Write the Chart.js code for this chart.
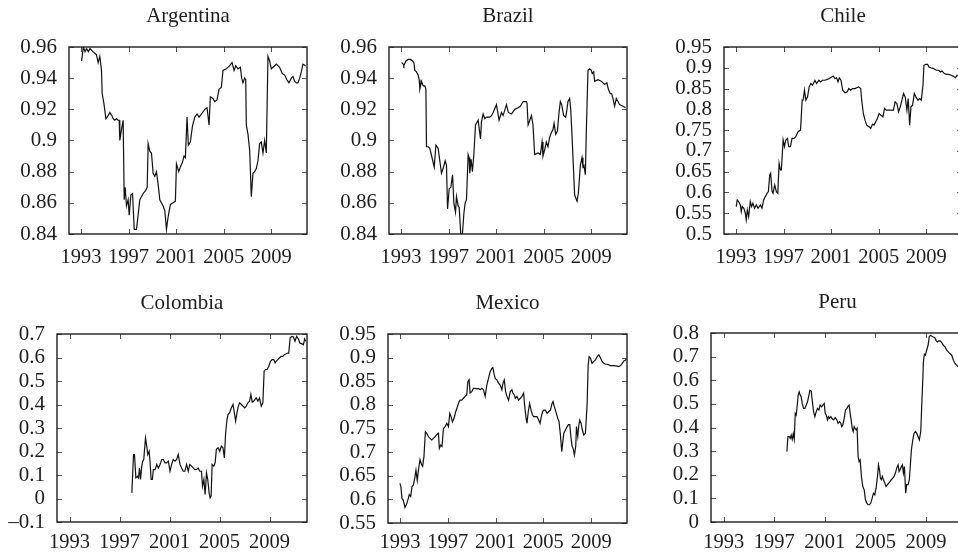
<!DOCTYPE html>
<html>
<head>
<meta charset="utf-8">
<script src="https://cdn.jsdelivr.net/npm/chart.js@4.4.0/dist/chart.umd.min.js"></script>
<style>
  body { margin: 0; background: #fff; }
  #figure { position: relative; width: 958px; height: 558px; overflow: hidden; background: #fff; }
  #figure canvas { position: absolute; }
</style>
</head>
<body>
<div id="figure"></div>
<script>
const yearTicks = [1993, 1997, 2001, 2005, 2009];

const argentinaYTicks = [0.84, 0.86, 0.88, 0.9, 0.92, 0.94, 0.96];
const brazilYTicks = [0.84, 0.86, 0.88, 0.9, 0.92, 0.94, 0.96];
const chileYTicks = [0.5, 0.55, 0.6, 0.65, 0.7, 0.75, 0.8, 0.85, 0.9, 0.95];
const colombiaYTicks = [-0.1, 0, 0.1, 0.2, 0.3, 0.4, 0.5, 0.6, 0.7];
const mexicoYTicks = [0.55, 0.6, 0.65, 0.7, 0.75, 0.8, 0.85, 0.9, 0.95];
const peruYTicks = [0, 0.1, 0.2, 0.3, 0.4, 0.5, 0.6, 0.7, 0.8];

const argentinaYears = [
  1993.06, 1993.20, 1993.35, 1993.48, 1993.62, 1993.76, 1994.00, 1994.17, 1994.31, 1994.45,
  1994.59, 1994.73, 1994.79, 1994.93, 1995.10, 1995.29, 1995.43, 1995.60, 1995.71, 1995.85,
  1995.99, 1996.12, 1996.22, 1996.27, 1996.41, 1996.55, 1996.64, 1996.72, 1996.83, 1996.97,
  1997.06, 1997.20, 1997.34, 1997.48, 1997.67, 1997.76, 1997.95, 1998.23, 1998.45, 1998.57,
  1998.65, 1998.79, 1998.93, 1999.07, 1999.21, 1999.35, 1999.49, 1999.63, 1999.91, 2000.05,
  2000.19, 2000.33, 2000.52, 2000.75, 2000.94, 2001.03, 2001.22, 2001.36, 2001.53, 2001.67,
  2001.78, 2001.92, 2002.03, 2002.20, 2002.37, 2002.57, 2002.76, 2002.93, 2003.13, 2003.41,
  2003.60, 2003.77, 2003.88, 2004.10, 2004.24, 2004.44, 2004.61, 2004.80, 2004.94, 2005.22,
  2005.50, 2005.70, 2005.87, 2006.01, 2006.20, 2006.40, 2006.51, 2006.62, 2006.76, 2006.85,
  2006.90, 2007.04, 2007.18, 2007.32, 2007.46, 2007.60, 2007.74, 2007.88, 2008.02, 2008.16,
  2008.30, 2008.44, 2008.58, 2008.72, 2008.86, 2009.00, 2009.14, 2009.28, 2009.42, 2009.70,
  2009.92, 2010.12, 2010.31, 2010.48, 2010.68, 2010.82, 2010.96, 2011.10, 2011.24, 2011.38,
  2011.52, 2011.66, 2011.88
];
const argentinaValues = [
  0.951, 0.960, 0.957, 0.959, 0.957, 0.959, 0.957, 0.956, 0.955, 0.950,
  0.954, 0.945, 0.930, 0.924, 0.914, 0.916, 0.918, 0.916, 0.914, 0.913,
  0.914, 0.913, 0.913, 0.900, 0.907, 0.913, 0.862, 0.870, 0.858, 0.862,
  0.852, 0.865, 0.866, 0.843, 0.843, 0.849, 0.862, 0.866, 0.868, 0.870,
  0.898, 0.893, 0.892, 0.879, 0.877, 0.880, 0.872, 0.862, 0.858, 0.855,
  0.843, 0.851, 0.859, 0.860, 0.861, 0.885, 0.880, 0.883, 0.886, 0.890,
  0.889, 0.915, 0.897, 0.899, 0.909, 0.915, 0.917, 0.915, 0.917, 0.920,
  0.921, 0.910, 0.928, 0.927, 0.925, 0.926, 0.933, 0.934, 0.945, 0.946,
  0.948, 0.950, 0.945, 0.948, 0.946, 0.947, 0.940, 0.937, 0.940, 0.939,
  0.910, 0.904, 0.894, 0.864, 0.879, 0.880, 0.882, 0.887, 0.898, 0.899,
  0.892, 0.900, 0.892, 0.954, 0.951, 0.946, 0.947, 0.948, 0.949, 0.947,
  0.943, 0.942, 0.939, 0.937, 0.940, 0.941, 0.938, 0.937, 0.937, 0.940,
  0.944, 0.949, 0.948
];

const brazilYears = [
  1993.06, 1993.20, 1993.25, 1993.42, 1993.62, 1993.81, 1993.98, 1994.09, 1994.17, 1994.31,
  1994.45, 1994.54, 1994.59, 1994.73, 1994.87, 1995.01, 1995.10, 1995.15, 1995.29, 1995.43,
  1995.80, 1995.94, 1996.13, 1996.41, 1996.55, 1996.72, 1996.83, 1996.92, 1997.06, 1997.20,
  1997.34, 1997.45, 1997.59, 1997.67, 1997.81, 1997.90, 1998.03, 1998.17, 1998.29, 1998.40,
  1998.51, 1998.65, 1998.73, 1998.79, 1998.90, 1999.01, 1999.13, 1999.27, 1999.49, 1999.69,
  1999.77, 1999.91, 2000.05, 2000.19, 2000.47, 2000.61, 2000.75, 2001.03, 2001.25, 2001.45,
  2001.59, 2001.87, 2002.03, 2002.29, 2002.57, 2002.85, 2003.04, 2003.27, 2003.55, 2003.60,
  2003.69, 2003.83, 2003.97, 2004.10, 2004.24, 2004.52, 2004.72, 2004.86, 2004.94, 2005.08,
  2005.22, 2005.36, 2005.50, 2005.64, 2005.78, 2005.87, 2006.01, 2006.15, 2006.29, 2006.40,
  2006.51, 2006.68, 2006.85, 2006.90, 2007.04, 2007.18, 2007.27, 2007.38, 2007.60, 2007.80,
  2007.91, 2008.08, 2008.22, 2008.30, 2008.38, 2008.50, 2008.58, 2008.72, 2008.86, 2009.00,
  2009.08, 2009.20, 2009.28, 2009.56, 2009.84, 2009.98, 2010.12, 2010.31, 2010.43, 2010.59,
  2010.71, 2010.82, 2010.96, 2011.10, 2011.24, 2011.38, 2011.66, 2011.88
];
const brazilValues = [
  0.950, 0.949, 0.948, 0.951, 0.952, 0.952, 0.951, 0.950, 0.945, 0.944,
  0.942, 0.939, 0.933, 0.938, 0.935, 0.935, 0.933, 0.896, 0.896, 0.895,
  0.883, 0.897, 0.895, 0.879, 0.882, 0.887, 0.884, 0.856, 0.869, 0.870,
  0.878, 0.860, 0.854, 0.864, 0.858, 0.857, 0.840, 0.840, 0.853, 0.860,
  0.862, 0.891, 0.889, 0.879, 0.888, 0.880, 0.891, 0.910, 0.913, 0.901,
  0.912, 0.917, 0.914, 0.915, 0.915, 0.916, 0.918, 0.923, 0.913, 0.918,
  0.916, 0.923, 0.918, 0.917, 0.920, 0.921, 0.922, 0.925, 0.925, 0.924,
  0.910, 0.913, 0.916, 0.910, 0.891, 0.892, 0.891, 0.899, 0.890, 0.894,
  0.899, 0.896, 0.902, 0.905, 0.907, 0.911, 0.904, 0.906, 0.918, 0.925,
  0.923, 0.916, 0.915, 0.917, 0.925, 0.927, 0.920, 0.903, 0.865, 0.861,
  0.866, 0.884, 0.889, 0.883, 0.884, 0.878, 0.905, 0.945, 0.946, 0.945,
  0.943, 0.944, 0.938, 0.939, 0.938, 0.937, 0.936, 0.937, 0.933, 0.930,
  0.930, 0.927, 0.922, 0.927, 0.925, 0.923, 0.922, 0.921
];

const chileYears = [
  1993.03, 1993.11, 1993.22, 1993.37, 1993.45, 1993.53, 1993.67, 1993.79, 1993.87, 1993.96,
  1994.07, 1994.21, 1994.32, 1994.43, 1994.57, 1994.72, 1994.86, 1995.05, 1995.19, 1995.33,
  1995.47, 1995.62, 1995.73, 1995.84, 1995.92, 1996.04, 1996.12, 1996.26, 1996.40, 1996.52,
  1996.63, 1996.74, 1996.82, 1996.97, 1997.08, 1997.19, 1997.33, 1997.44, 1997.58, 1997.72,
  1997.89, 1998.03, 1998.23, 1998.43, 1998.57, 1998.65, 1998.76, 1998.88, 1999.02, 1999.16,
  1999.30, 1999.44, 1999.64, 1999.78, 1999.97, 2000.11, 2000.28, 2000.48, 2000.68, 2000.85,
  2001.04, 2001.18, 2001.32, 2001.46, 2001.58, 2001.69, 2001.83, 2001.97, 2002.17, 2002.36,
  2002.48, 2002.65, 2002.81, 2003.01, 2003.15, 2003.32, 2003.49, 2003.57, 2003.71, 2003.85,
  2003.99, 2004.19, 2004.33, 2004.47, 2004.61, 2004.75, 2004.89, 2005.03, 2005.17, 2005.35,
  2005.49, 2005.63, 2005.77, 2005.91, 2006.10, 2006.24, 2006.38, 2006.53, 2006.67, 2006.81,
  2006.95, 2007.09, 2007.23, 2007.37, 2007.48, 2007.60, 2007.71, 2007.85, 2007.99, 2008.13,
  2008.30, 2008.44, 2008.58, 2008.72, 2008.80, 2008.94, 2009.11, 2009.22, 2009.39, 2009.62,
  2009.84, 2010.04, 2010.18, 2010.32, 2010.52, 2010.69, 2010.88, 2011.08, 2011.25, 2011.45,
  2011.59, 2011.73, 2011.90
];
const chileValues = [
  0.566, 0.582, 0.578, 0.570, 0.554, 0.566, 0.562, 0.550, 0.534, 0.558,
  0.542, 0.578, 0.566, 0.574, 0.562, 0.570, 0.562, 0.570, 0.562, 0.582,
  0.590, 0.598, 0.602, 0.642, 0.646, 0.602, 0.598, 0.618, 0.602, 0.598,
  0.670, 0.654, 0.654, 0.726, 0.710, 0.726, 0.730, 0.710, 0.710, 0.730,
  0.730, 0.734, 0.746, 0.750, 0.822, 0.822, 0.846, 0.822, 0.830, 0.854,
  0.862, 0.858, 0.870, 0.862, 0.870, 0.866, 0.870, 0.870, 0.872, 0.874,
  0.878, 0.880, 0.874, 0.876, 0.866, 0.876, 0.870, 0.846, 0.840, 0.842,
  0.850, 0.846, 0.850, 0.850, 0.852, 0.854, 0.850, 0.822, 0.790, 0.774,
  0.762, 0.758, 0.754, 0.764, 0.762, 0.770, 0.778, 0.790, 0.786, 0.782,
  0.802, 0.798, 0.798, 0.798, 0.798, 0.798, 0.818, 0.814, 0.794, 0.806,
  0.822, 0.838, 0.830, 0.798, 0.826, 0.762, 0.806, 0.810, 0.838, 0.830,
  0.822, 0.826, 0.822, 0.858, 0.906, 0.908, 0.908, 0.902, 0.900, 0.898,
  0.894, 0.894, 0.890, 0.892, 0.886, 0.884, 0.884, 0.882, 0.880, 0.876,
  0.882, 0.880, 0.880
];

const colombiaYears = [
  1997.99, 1998.12, 1998.20, 1998.31, 1998.44, 1998.52, 1998.60, 1998.68, 1998.78, 1998.86,
  1998.94, 1999.08, 1999.18, 1999.26, 1999.37, 1999.45, 1999.53, 1999.63, 1999.71, 1999.85,
  1999.98, 2000.11, 2000.24, 2000.38, 2000.51, 2000.64, 2000.77, 2000.91, 2001.04, 2001.17,
  2001.30, 2001.44, 2001.57, 2001.70, 2001.84, 2001.97, 2002.10, 2002.23, 2002.37, 2002.50,
  2002.63, 2002.76, 2002.90, 2003.03, 2003.16, 2003.29, 2003.43, 2003.56, 2003.64, 2003.75,
  2003.85, 2003.96, 2004.06, 2004.17, 2004.25, 2004.33, 2004.41, 2004.54, 2004.65, 2004.75,
  2004.89, 2005.02, 2005.15, 2005.28, 2005.39, 2005.49, 2005.60, 2005.68, 2005.81, 2005.95,
  2006.08, 2006.19, 2006.29, 2006.40, 2006.51, 2006.61, 2006.75, 2006.88, 2007.01, 2007.14,
  2007.27, 2007.41, 2007.51, 2007.62, 2007.73, 2007.83, 2007.94, 2008.07, 2008.20, 2008.34,
  2008.47, 2008.57, 2008.68, 2008.81, 2008.94, 2009.08, 2009.21, 2009.34, 2009.45, 2009.53,
  2009.66, 2009.79, 2009.93, 2010.06, 2010.19, 2010.33, 2010.46, 2010.54, 2010.65, 2010.78,
  2010.91, 2011.04, 2011.17, 2011.31, 2011.44, 2011.57, 2011.71, 2011.81, 2011.89
];
const colombiaValues = [
  0.024, 0.187, 0.187, 0.088, 0.095, 0.088, 0.130, 0.081, 0.138, 0.159,
  0.166, 0.258, 0.223, 0.187, 0.201, 0.152, 0.081, 0.081, 0.123, 0.123,
  0.145, 0.130, 0.145, 0.166, 0.166, 0.152, 0.152, 0.159, 0.116, 0.145,
  0.166, 0.159, 0.166, 0.187, 0.145, 0.130, 0.116, 0.116, 0.145, 0.116,
  0.145, 0.138, 0.130, 0.123, 0.123, 0.130, 0.116, 0.116, 0.052, 0.081,
  0.017, 0.109, 0.081, 0.024, 0.003, 0.010, 0.145, 0.138, 0.152, 0.209,
  0.216, 0.201, 0.223, 0.216, 0.173, 0.279, 0.336, 0.357, 0.365, 0.386,
  0.400, 0.365, 0.329, 0.365, 0.393, 0.407, 0.400, 0.393, 0.386, 0.393,
  0.407, 0.414, 0.443, 0.410, 0.414, 0.421, 0.428, 0.414, 0.428, 0.393,
  0.407, 0.542, 0.549, 0.549, 0.563, 0.584, 0.591, 0.591, 0.577, 0.584,
  0.591, 0.598, 0.605, 0.605, 0.612, 0.616, 0.619, 0.619, 0.683, 0.690,
  0.687, 0.669, 0.690, 0.679, 0.661, 0.659, 0.654, 0.679, 0.669
];

const mexicoYears = [
  1993.00, 1993.08, 1993.17, 1993.28, 1993.42, 1993.56, 1993.70, 1993.78, 1993.90, 1994.01,
  1994.12, 1994.23, 1994.34, 1994.45, 1994.57, 1994.68, 1994.82, 1994.90, 1995.01, 1995.13,
  1995.24, 1995.38, 1995.52, 1995.66, 1995.80, 1995.94, 1996.08, 1996.22, 1996.30, 1996.41,
  1996.52, 1996.64, 1996.78, 1996.92, 1997.06, 1997.17, 1997.28, 1997.39, 1997.53, 1997.67,
  1997.81, 1997.95, 1998.03, 1998.17, 1998.31, 1998.45, 1998.59, 1998.68, 1998.79, 1998.87,
  1999.01, 1999.15, 1999.29, 1999.43, 1999.57, 1999.71, 1999.85, 1999.99, 2000.13, 2000.27,
  2000.41, 2000.55, 2000.69, 2000.78, 2000.86, 2000.97, 2001.11, 2001.25, 2001.39, 2001.53,
  2001.62, 2001.73, 2001.84, 2001.95, 2002.09, 2002.23, 2002.37, 2002.45, 2002.57, 2002.65,
  2002.79, 2002.93, 2003.07, 2003.21, 2003.35, 2003.43, 2003.55, 2003.63, 2003.74, 2003.85,
  2003.97, 2004.08, 2004.19, 2004.33, 2004.47, 2004.61, 2004.72, 2004.83, 2004.94, 2005.03,
  2005.17, 2005.31, 2005.45, 2005.59, 2005.73, 2005.81, 2005.92, 2006.01, 2006.09, 2006.20,
  2006.31, 2006.43, 2006.54, 2006.62, 2006.71, 2006.85, 2006.99, 2007.10, 2007.21, 2007.32,
  2007.41, 2007.49, 2007.60, 2007.71, 2007.77, 2007.88, 2007.97, 2008.05, 2008.16, 2008.24,
  2008.38, 2008.52, 2008.66, 2008.75, 2008.83, 2008.94, 2009.08, 2009.22, 2009.36, 2009.50,
  2009.64, 2009.78, 2009.92, 2010.06, 2010.20, 2010.34, 2010.62, 2010.90, 2011.18, 2011.32,
  2011.46, 2011.60, 2011.74, 2011.88, 2011.98
];
const mexicoValues = [
  0.634, 0.627, 0.602, 0.598, 0.583, 0.590, 0.602, 0.610, 0.606, 0.627,
  0.630, 0.644, 0.662, 0.640, 0.666, 0.684, 0.673, 0.670, 0.691, 0.743,
  0.740, 0.733, 0.729, 0.726, 0.729, 0.733, 0.737, 0.740, 0.708, 0.715,
  0.712, 0.750, 0.754, 0.761, 0.754, 0.782, 0.775, 0.764, 0.772, 0.786,
  0.796, 0.807, 0.810, 0.810, 0.814, 0.818, 0.821, 0.849, 0.853, 0.825,
  0.828, 0.835, 0.835, 0.834, 0.835, 0.832, 0.835, 0.832, 0.818, 0.842,
  0.856, 0.870, 0.877, 0.879, 0.867, 0.856, 0.853, 0.846, 0.842, 0.832,
  0.846, 0.853, 0.828, 0.818, 0.810, 0.828, 0.832, 0.825, 0.821, 0.814,
  0.818, 0.810, 0.814, 0.818, 0.825, 0.800, 0.772, 0.761, 0.786, 0.803,
  0.789, 0.779, 0.775, 0.775, 0.775, 0.768, 0.761, 0.775, 0.786, 0.789,
  0.789, 0.782, 0.786, 0.789, 0.803, 0.807, 0.796, 0.789, 0.782, 0.772,
  0.765, 0.736, 0.701, 0.719, 0.740, 0.747, 0.754, 0.758, 0.758, 0.729,
  0.712, 0.708, 0.694, 0.712, 0.754, 0.733, 0.758, 0.768, 0.761, 0.750,
  0.736, 0.740, 0.800, 0.884, 0.902, 0.899, 0.888, 0.892, 0.895, 0.902,
  0.906, 0.899, 0.892, 0.888, 0.886, 0.886, 0.883, 0.883, 0.882, 0.881,
  0.883, 0.888, 0.893, 0.895, 0.899
];

const peruYears = [
  1998.00, 1998.08, 1998.18, 1998.26, 1998.34, 1998.42, 1998.50, 1998.58, 1998.66, 1998.74,
  1998.82, 1998.89, 1998.97, 1999.05, 1999.13, 1999.21, 1999.32, 1999.42, 1999.53, 1999.63,
  1999.74, 1999.82, 1999.92, 2000.00, 2000.11, 2000.21, 2000.32, 2000.42, 2000.53, 2000.63,
  2000.74, 2000.84, 2000.95, 2001.03, 2001.11, 2001.21, 2001.29, 2001.37, 2001.47, 2001.55,
  2001.68, 2001.82, 2001.95, 2002.05, 2002.16, 2002.26, 2002.34, 2002.42, 2002.53, 2002.63,
  2002.74, 2002.84, 2002.92, 2003.00, 2003.08, 2003.16, 2003.24, 2003.32, 2003.39, 2003.47,
  2003.55, 2003.63, 2003.71, 2003.79, 2003.89, 2004.00, 2004.11, 2004.21, 2004.32, 2004.42,
  2004.53, 2004.63, 2004.74, 2004.84, 2004.95, 2005.05, 2005.16, 2005.24, 2005.32, 2005.39,
  2005.47, 2005.55, 2005.63, 2005.74, 2005.84, 2005.95, 2006.05, 2006.16, 2006.26, 2006.37,
  2006.47, 2006.58, 2006.68, 2006.79, 2006.87, 2006.95, 2007.05, 2007.13, 2007.21, 2007.29,
  2007.39, 2007.47, 2007.58, 2007.68, 2007.76, 2007.84, 2007.95, 2008.05, 2008.16, 2008.26,
  2008.37, 2008.47, 2008.58, 2008.66, 2008.74, 2008.79, 2008.87, 2008.95, 2009.05, 2009.16,
  2009.26, 2009.37, 2009.47, 2009.58, 2009.68, 2009.79, 2009.89, 2010.00, 2010.11, 2010.24,
  2010.37, 2010.50, 2010.63, 2010.76, 2010.89, 2011.03, 2011.16, 2011.29, 2011.42, 2011.53
];
const peruValues = [
  0.298, 0.361, 0.361, 0.354, 0.368, 0.350, 0.373, 0.350, 0.460, 0.453,
  0.495, 0.537, 0.551, 0.537, 0.530, 0.502, 0.481, 0.481, 0.495, 0.509,
  0.537, 0.558, 0.554, 0.516, 0.467, 0.446, 0.467, 0.481, 0.474, 0.495,
  0.488, 0.495, 0.502, 0.460, 0.453, 0.432, 0.446, 0.439, 0.446, 0.439,
  0.432, 0.442, 0.432, 0.418, 0.425, 0.418, 0.404, 0.411, 0.439, 0.474,
  0.481, 0.491, 0.495, 0.460, 0.432, 0.397, 0.383, 0.404, 0.397, 0.390,
  0.397, 0.277, 0.256, 0.263, 0.193, 0.150, 0.136, 0.094, 0.080, 0.073,
  0.073, 0.080, 0.101, 0.122, 0.115, 0.143, 0.193, 0.242, 0.221, 0.186,
  0.179, 0.193, 0.179, 0.165, 0.150, 0.158, 0.165, 0.172, 0.179, 0.186,
  0.193, 0.207, 0.228, 0.242, 0.214, 0.221, 0.235, 0.242, 0.207, 0.235,
  0.122, 0.158, 0.158, 0.179, 0.242, 0.305, 0.347, 0.376, 0.383, 0.376,
  0.361, 0.347, 0.383, 0.495, 0.601, 0.678, 0.710, 0.706, 0.727, 0.748,
  0.786, 0.790, 0.786, 0.783, 0.781, 0.769, 0.762, 0.767, 0.767, 0.759,
  0.748, 0.741, 0.727, 0.720, 0.713, 0.706, 0.685, 0.671, 0.664, 0.657
];

// canvas = [left, top, width, height] on the page, box = plot frame [left, top, right, bottom]
const panels = [
  { title: 'Argentina', years: argentinaYears, values: argentinaValues, yTicks: argentinaYTicks, canvas: [0, 0, 320, 280], box: [69, 47, 307, 234], xPad: 11 },
  { title: 'Brazil', years: brazilYears, values: brazilValues, yTicks: brazilYTicks, canvas: [320, 0, 320, 280], box: [389, 47, 627, 234], xPad: 11 },
  { title: 'Chile', years: chileYears, values: chileValues, yTicks: chileYTicks, canvas: [640, 0, 330, 280], box: [724, 47, 962, 234], xPad: 11 },
  { title: 'Colombia', years: colombiaYears, values: colombiaValues, yTicks: colombiaYTicks, canvas: [0, 280, 320, 278], box: [57, 334, 307, 522], xPad: 8 },
  { title: 'Mexico', years: mexicoYears, values: mexicoValues, yTicks: mexicoYTicks, canvas: [320, 280, 320, 278], box: [388, 334, 627, 523], xPad: 7 },
  { title: 'Peru', years: peruYears, values: peruValues, yTicks: peruYTicks, canvas: [640, 280, 330, 278], box: [711, 333, 964, 522], xPad: 8 }
];

const serif = "'Liberation Serif', 'DejaVu Serif', serif";
const ink = '#1e1e1e';

function fmtTick(v) {
  const s = String(parseFloat(Math.abs(v).toFixed(2)));
  return v < -1e-9 ? '\u2013' + s : s;
}

// frame, inward mirrored ticks and the panel title
const framePlugin = {
  id: 'frame',
  afterDraw(chart, args, opts) {
    const { ctx, chartArea: a, scales } = chart;
    ctx.save();
    ctx.strokeStyle = '#555';
    ctx.lineWidth = 1;
    ctx.beginPath();
    scales.x.ticks.forEach(t => {
      const px = Math.round(scales.x.getPixelForValue(t.value)) + 0.5;
      ctx.moveTo(px, a.bottom); ctx.lineTo(px, a.bottom - 5);
      ctx.moveTo(px, a.top); ctx.lineTo(px, a.top + 5);
    });
    scales.y.ticks.forEach(t => {
      const py = Math.round(scales.y.getPixelForValue(t.value)) + 0.5;
      ctx.moveTo(a.left, py); ctx.lineTo(a.left + 5, py);
      ctx.moveTo(a.right, py); ctx.lineTo(a.right - 5, py);
    });
    ctx.stroke();
    ctx.strokeStyle = ink;
    ctx.lineWidth = 1.4;
    ctx.strokeRect(a.left, a.top, a.right - a.left, a.bottom - a.top);
    ctx.fillStyle = ink;
    ctx.font = '21px ' + serif;
    ctx.textAlign = 'center';
    ctx.textBaseline = 'alphabetic';
    ctx.fillText(opts.text, (a.left + a.right) / 2, a.top - 25);
    ctx.restore();
  }
};

const figure = document.getElementById('figure');

panels.forEach(p => {
  const [cx, cy, cw, ch] = p.canvas;
  const [L, T, R, B] = p.box;
  const canvas = document.createElement('canvas');
  canvas.width = cw;
  canvas.height = ch;
  canvas.style.left = cx + 'px';
  canvas.style.top = cy + 'px';
  figure.appendChild(canvas);

  new Chart(canvas, {
    type: 'line',
    data: {
      datasets: [{
        data: p.years.map((x, i) => ({ x: x, y: p.values[i] })),
        borderColor: '#111',
        borderWidth: 1.2,
        pointRadius: 0,
        tension: 0,
        fill: false
      }]
    },
    options: {
      responsive: false,
      animation: false,
      events: [],
      layout: { padding: { left: 0, top: T - cy, right: cw - (R - cx), bottom: 0 } },
      plugins: {
        legend: { display: false },
        tooltip: { enabled: false },
        frame: { text: p.title }
      },
      scales: {
        x: {
          type: 'linear',
          min: 1992,
          max: 2012,
          afterBuildTicks: s => { s.ticks = yearTicks.map(v => ({ value: v })); },
          afterFit: s => { s.height = ch - (B - cy); },
          grid: { display: false, drawTicks: false },
          border: { display: false },
          ticks: {
            color: ink,
            font: { family: serif, size: 20.5 },
            padding: p.xPad,
            maxRotation: 0,
            autoSkip: false,
            callback: v => String(v)
          }
        },
        y: {
          min: p.yTicks[0],
          max: p.yTicks[p.yTicks.length - 1],
          afterBuildTicks: s => { s.ticks = p.yTicks.map(v => ({ value: v })); },
          afterFit: s => { s.width = L - cx; },
          grid: { display: false, drawTicks: false },
          border: { display: false },
          ticks: {
            color: ink,
            font: { family: serif, size: 21 },
            padding: 12,
            autoSkip: false,
            callback: v => fmtTick(v)
          }
        }
      }
    },
    plugins: [framePlugin]
  });
});
</script>
</body>
</html>
